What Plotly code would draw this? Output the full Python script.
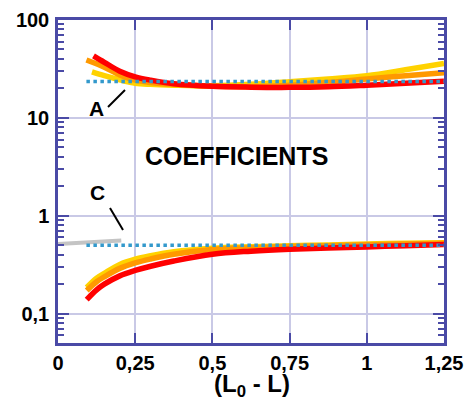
import plotly.graph_objects as go

# ---- data ----
x_red_A = [0.115, 0.15, 0.2, 0.25, 0.3, 0.375, 0.5, 0.625, 0.75, 0.875, 1.0, 1.125, 1.25]
red_A = [43, 37, 30, 26.3, 24.3, 22.3, 21, 20.6, 20.5, 20.8, 21.6, 22.6, 23.7]
x_orange_A = [0.092, 0.15, 0.2, 0.25, 0.3, 0.375, 0.5, 0.625, 0.75, 0.875, 1.0, 1.125, 1.25]
orange_A = [39, 33, 27.5, 24.3, 23, 22, 21, 20.8, 21.6, 23, 25, 27, 29]
x_yellow_A = [0.11, 0.15, 0.2, 0.25, 0.3, 0.375, 0.5, 0.625, 0.75, 0.875, 1.0, 1.125, 1.25]
yellow_A = [29.5, 27, 24.5, 22.6, 22, 21.6, 21.3, 22, 23.4, 25, 27, 31, 36]

x_C = [0.093, 0.125, 0.15, 0.2, 0.25, 0.3, 0.375, 0.5, 0.625, 0.75, 0.875, 1.0, 1.125, 1.25]
red_C = [0.139, 0.175, 0.2, 0.243, 0.276, 0.305, 0.345, 0.405, 0.435, 0.455, 0.468, 0.48, 0.495, 0.51]
orange_C = [0.172, 0.212, 0.238, 0.29, 0.33, 0.362, 0.405, 0.452, 0.472, 0.485, 0.495, 0.505, 0.515, 0.525]
yellow_C = [0.185, 0.23, 0.258, 0.318, 0.36, 0.39, 0.428, 0.465, 0.482, 0.494, 0.504, 0.514, 0.524, 0.53]

x_ref = [0.092, 1.25]
ref_A = [23.5, 23.5]
ref_C = [0.5, 0.5]
x_gray_C = [0.0, 0.205]
gray_C = [0.515, 0.56]

x_ticks = [0, 0.25, 0.5, 0.75, 1.0, 1.25]
x_ticktext = ["0", "0,25", "0,5", "0,75", "1", "1,25"]
y_ticks = [0.1, 1, 10, 100]
y_ticktext = ["0,1", "1", "10", "100"]

RED = "#FF0000"
ORANGE = "#FF9900"
YELLOW = "#FFD200"
BLUE = "#3399CC"
GRAY = "#C4C4C4"
AXIS = "#4A4AA6"
GRID = "#C9C9E6"
FONT = "Liberation Sans, Arial, sans-serif"

fig = go.Figure()

def curve(x, y, color, width=5.5, dash=None, shape="spline"):
    fig.add_trace(go.Scatter(x=x, y=y, mode="lines", showlegend=False, hoverinfo="skip",
                             line=dict(color=color, width=width, dash=dash, shape=shape,
                                       smoothing=1.0 if shape == "spline" else None)))

curve(x_gray_C, gray_C, GRAY, 4, shape="linear")
curve(x_yellow_A, yellow_A, YELLOW)
curve(x_orange_A, orange_A, ORANGE)
curve(x_red_A, red_A, RED)
curve(x_C, yellow_C, YELLOW)
curve(x_C, orange_C, ORANGE)
curve(x_C, red_C, RED)
curve(x_ref, ref_A, BLUE, 3.5, dash="dot", shape="linear")
curve(x_ref, ref_C, BLUE, 3.5, dash="dot", shape="linear")

W, H = 466, 410
L, R, T, B = 58, 22, 20, 67
pw, ph = W - L - R, H - T - B

def px(x):
    return (x - L) / pw

def py(y):
    return (H - B - y) / ph

tickfont = dict(family=FONT, size=20, color="black", weight="bold")

fig.update_layout(
    width=W, height=H,
    margin=dict(l=L, r=R, t=T, b=B, autoexpand=False),
    paper_bgcolor="white", plot_bgcolor="white",
    xaxis=dict(range=[0, 1.25], tickvals=x_ticks, ticktext=x_ticktext, automargin=False,
               showgrid=True, gridcolor=GRID, gridwidth=1.5,
               showline=True, linecolor=AXIS, linewidth=2.5, mirror="ticks",
               ticks="inside", ticklen=10, tickwidth=2, tickcolor=AXIS,
               tickfont=tickfont, zeroline=False),
    yaxis=dict(type="log", range=[-1.3, 2], tickvals=y_ticks, ticktext=y_ticktext, automargin=False,
               showgrid=True, gridcolor=GRID, gridwidth=1.5,
               showline=True, linecolor=AXIS, linewidth=2.5, mirror="ticks",
               ticks="inside", ticklen=11, tickwidth=2, tickcolor=AXIS,
               tickfont=tickfont, zeroline=False, ticklabelstandoff=2,
               minor=dict(ticks="inside", ticklen=6, tickwidth=2, tickcolor=AXIS,
                          dtick="D1", showgrid=False)),
    font=dict(family=FONT),
)

ann = [
    dict(text="A", x=px(96.5), y=py(108), size=21),
    dict(text="C", x=px(97.5), y=py(192.5), size=21),
    dict(text="COEFFICIENTS", x=px(236.5), y=py(156), size=25),
    dict(text="(L<sub>0</sub> - L)", x=px(252), y=py(385), size=24),
]
for a in ann:
    fig.add_annotation(text=a["text"], x=a["x"], y=a["y"], xref="paper", yref="paper",
                       showarrow=False, xanchor="center", yanchor="middle",
                       font=dict(family=FONT, size=a["size"], color="black", weight="bold"))

for (x0, y0, x1, y1) in [(108, 107, 125, 90), (110, 208, 123, 230)]:
    fig.add_shape(type="line", xref="paper", yref="paper",
                  x0=px(x0), y0=py(y0), x1=px(x1), y1=py(y1),
                  line=dict(color="black", width=2))

fig.write_html("out.html", config={"displayModeBar": False},
               post_script="document.body.style.margin='0';document.body.style.overflow='hidden';")
